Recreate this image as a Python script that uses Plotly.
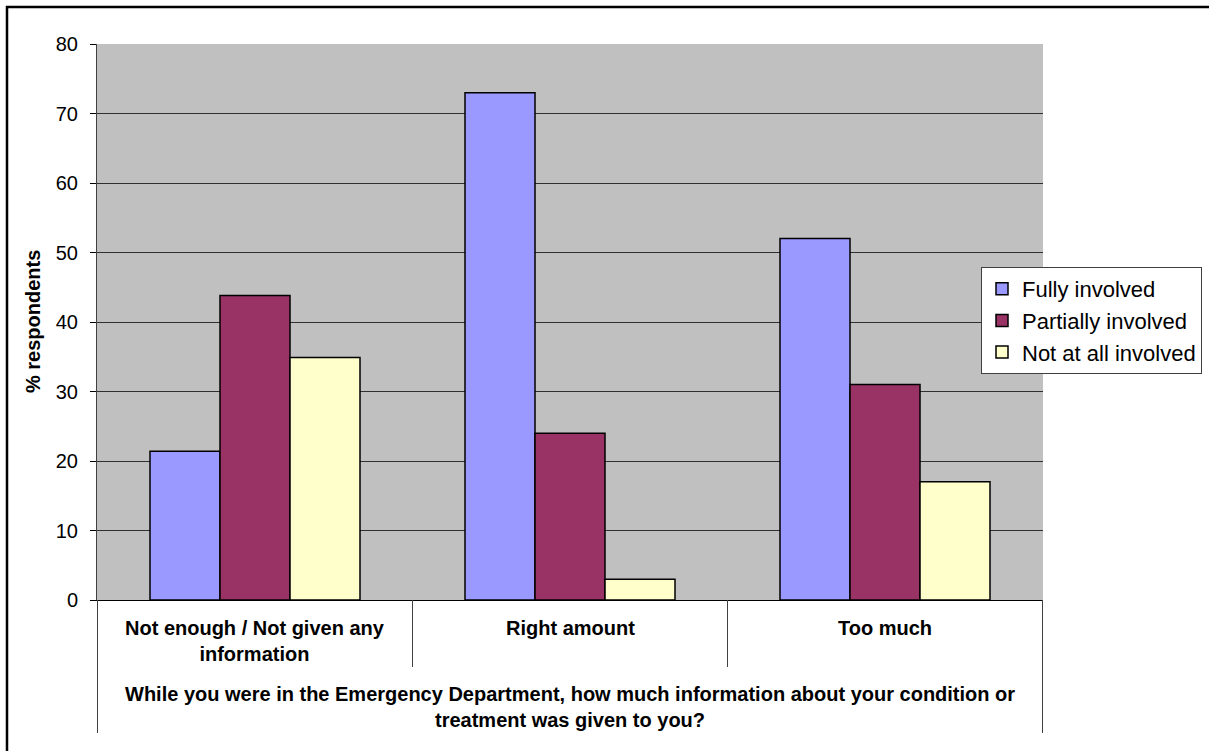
import plotly.graph_objects as go

# Survey responses, % of respondents
categories = ["Not enough / Not given any information", "Right amount", "Too much"]
category_labels = ["Not enough / Not given any<br>information", "Right amount", "Too much"]
series_names = ["Fully involved", "Partially involved", "Not at all involved"]
fully = [21.4, 73.0, 52.0]
partially = [43.8, 24.0, 31.0]
not_at_all = [34.9, 3.0, 17.0]
y_ticks = [0, 10, 20, 30, 40, 50, 60, 70, 80]
x_title = ("While you were in the Emergency Department, how much information about your condition or<br>"
           "treatment was given to you?")
y_title = "% respondents"

colors = ["#9999FF", "#993366", "#FFFFCC"]
FONT = "Liberation Sans, Arial, sans-serif"

# plot-area geometry in pixels
W, H = 1209, 751
L, R, T, B = 97, 1043, 44, 600
pw, ph = R - L, B - T


def px_x(x):
    return (x - L) / pw


def px_y(y):
    return (B - y) / ph


fig = go.Figure()
for name, vals, col in zip(series_names, [fully, partially, not_at_all], colors):
    fig.add_trace(go.Bar(
        name=name, x=categories, y=vals,
        marker=dict(color=col, line=dict(color="black", width=1.5)),
    ))

shapes = []
# outer chart frame: top and left edges (the rest runs off the canvas)
shapes.append(dict(type="line", xref="paper", yref="paper",
                   x0=px_x(6), x1=px_x(1300), y0=px_y(7), y1=px_y(7),
                   line=dict(color="black", width=2.5), layer="above"))
shapes.append(dict(type="line", xref="paper", yref="paper",
                   x0=px_x(7), x1=px_x(7), y0=px_y(6), y1=px_y(900),
                   line=dict(color="black", width=2.5), layer="above"))
# category separators of the grouped axis
for xv, bottom in [(-0.5, 733), (0.5, 667), (1.5, 667), (2.5, 733)]:
    shapes.append(dict(type="line", xref="x", yref="paper",
                       x0=xv, x1=xv, y0=px_y(600), y1=px_y(bottom),
                       line=dict(color="#404040", width=1)))
fig.update_layout(shapes=shapes)

annotations = []
for cat, lab in zip(categories, category_labels):
    annotations.append(dict(x=cat, xref="x", y=px_y(615), yref="paper",
                            text=lab, showarrow=False, yanchor="top", xanchor="center",
                            font=dict(family=FONT, size=20, color="black")))
annotations.append(dict(x=px_x(570), xref="paper", y=px_y(681), yref="paper",
                        text=x_title, showarrow=False, yanchor="top", xanchor="center",
                        font=dict(family=FONT, size=20, color="black")))
annotations.append(dict(x=px_x(33), xref="paper", y=px_y(322), yref="paper",
                        text=y_title, showarrow=False, textangle=-90,
                        xanchor="center", yanchor="middle",
                        font=dict(family=FONT, size=20, color="black")))
for a in annotations:
    a["text"] = "<b>" + a["text"] + "</b>"

fig.update_layout(
    width=W, height=H,
    margin=dict(l=L, r=W - R, t=T, b=H - B, pad=0, autoexpand=False),
    paper_bgcolor="white",
    plot_bgcolor="#C0C0C0",
    barmode="group",
    bargap=1 / 3,
    bargroupgap=0,
    font=dict(family=FONT, color="black"),
    annotations=annotations,
    showlegend=True,
    legend=dict(x=px_x(1202), y=px_y(267), xanchor="right", yanchor="top",
                bgcolor="white", bordercolor="#404040", borderwidth=1,
                font=dict(family=FONT, size=22, color="black"),
                itemwidth=30, traceorder="normal"),
    xaxis=dict(showticklabels=False, ticks="", showline=True, linecolor="black",
               linewidth=1, showgrid=False, zeroline=False, fixedrange=True),
    yaxis=dict(range=[0, 80], tickvals=y_ticks, ticks="outside", ticklen=6,
               tickcolor="black", showline=True, linecolor="#404040", linewidth=1,
               gridcolor="#303030", gridwidth=1, zeroline=False,
               ticklabelstandoff=8,
               tickfont=dict(family=FONT, size=20, color="black")),
)

fig.write_html("out.html")
